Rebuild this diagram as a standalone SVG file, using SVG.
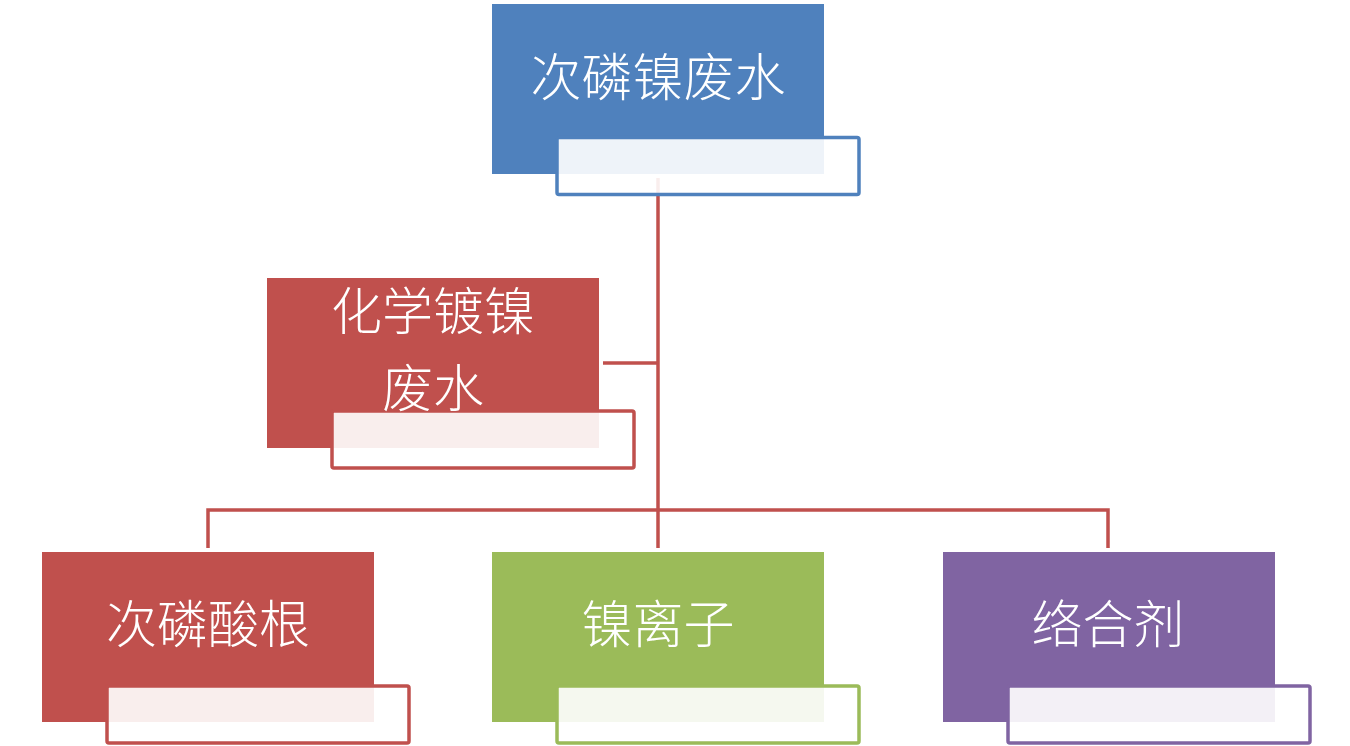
<svg xmlns="http://www.w3.org/2000/svg" width="1350" height="746" viewBox="0 0 1350 746">
<style>
.conn{fill:none;stroke:#c0504d;stroke-width:3.5;stroke-linecap:butt}
.ov{fill:#ffffff;fill-opacity:0.9;stroke-width:3.5}
.lbl{font-family:"Noto Sans CJK SC","Noto Sans CJK TC",serif;font-weight:300;font-size:51px;fill:#ffffff;text-anchor:middle}
</style>
<rect width="1350" height="746" fill="#ffffff"/>
<g id="connectors">
<path class="conn" d="M658,178 V548"/>
<path class="conn" d="M603,363 H658"/>
<path class="conn" d="M208,548 V510 H1108 V548"/>
</g>
<g id="node-top">
<rect x="492" y="4" width="332" height="170" fill="#4f81bd"/>
<rect class="ov" x="557" y="137.5" width="302" height="57" rx="2" stroke="#4f81bd"/>
<text class="lbl" x="658" y="96">次磷镍废水</text>
</g>
<g id="node-mid">
<rect x="267" y="278" width="332" height="170" fill="#c0504d"/>
<rect class="ov" x="332" y="411" width="302" height="57" rx="2" stroke="#c0504d"/>
<text class="lbl" x="433" y="330">化学镀镍</text>
<text class="lbl" x="433" y="407">废水</text>
</g>
<g id="node-left">
<rect x="42" y="552" width="332" height="170" fill="#c0504d"/>
<rect class="ov" x="107" y="686" width="302" height="57" rx="2" stroke="#c0504d"/>
<text class="lbl" x="208" y="643">次磷酸根</text>
</g>
<g id="node-center">
<rect x="492" y="552" width="332" height="170" fill="#9bbb59"/>
<rect class="ov" x="557" y="686" width="302" height="57" rx="2" stroke="#9bbb59"/>
<text class="lbl" x="658" y="643">镍离子</text>
</g>
<g id="node-right">
<rect x="943" y="552" width="332" height="170" fill="#8064a2"/>
<rect class="ov" x="1008" y="686" width="302" height="57" rx="2" stroke="#8064a2"/>
<text class="lbl" x="1108" y="643">络合剂</text>
</g>
</svg>
